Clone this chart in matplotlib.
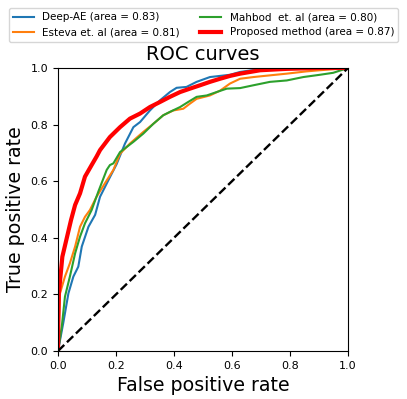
import matplotlib
matplotlib.use("Agg")
import matplotlib.pyplot as plt

# --- ROC points ---
deep_fpr = [0.0, 0.018, 0.036, 0.053, 0.07, 0.082, 0.105, 0.128, 0.145, 0.174, 0.202, 0.231,
            0.26, 0.283, 0.317, 0.352, 0.386, 0.409, 0.443, 0.478, 0.524, 0.593, 0.628, 0.708,
            0.8, 1.0]
deep_tpr = [0.0, 0.098, 0.204, 0.263, 0.298, 0.369, 0.439, 0.481, 0.545, 0.604, 0.66, 0.733,
            0.791, 0.809, 0.85, 0.886, 0.915, 0.93, 0.933, 0.951, 0.968, 0.976, 0.986, 0.998,
            1.0, 1.0]

esteva_fpr = [0.0, 0.004, 0.007, 0.024, 0.041, 0.059, 0.076, 0.093, 0.11, 0.133, 0.162, 0.191,
              0.214, 0.248, 0.294, 0.329, 0.363, 0.398, 0.432, 0.455, 0.478, 0.524, 0.559,
              0.593, 0.628, 0.674, 0.731, 0.789, 0.857, 0.903, 1.0]
esteva_tpr = [0.0, 0.12, 0.204, 0.263, 0.31, 0.369, 0.439, 0.474, 0.498, 0.545, 0.593, 0.64,
              0.697, 0.733, 0.774, 0.803, 0.833, 0.85, 0.856, 0.874, 0.891, 0.903, 0.92,
              0.945, 0.962, 0.968, 0.974, 0.98, 0.988, 0.992, 1.0]

mahbod_fpr = [0.0, 0.013, 0.024, 0.041, 0.059, 0.076, 0.093, 0.116, 0.139, 0.168, 0.179, 0.191,
              0.214, 0.26, 0.294, 0.329, 0.363, 0.386, 0.421, 0.449, 0.478, 0.513, 0.547,
              0.582, 0.628, 0.674, 0.731, 0.789, 0.846, 0.903, 0.949, 1.0]
mahbod_tpr = [0.0, 0.086, 0.192, 0.263, 0.345, 0.404, 0.451, 0.498, 0.563, 0.64, 0.657, 0.663,
              0.703, 0.739, 0.768, 0.803, 0.833, 0.845, 0.862, 0.88, 0.898, 0.903, 0.915,
              0.927, 0.929, 0.939, 0.951, 0.956, 0.968, 0.976, 0.983, 1.0]

prop_fpr = [0.0, 0.001, 0.003, 0.015, 0.03, 0.045, 0.059, 0.076, 0.093, 0.116, 0.133, 0.145,
            0.179, 0.214, 0.248, 0.283, 0.317, 0.352, 0.386, 0.421, 0.455, 0.49, 0.524, 0.559,
            0.593, 0.628, 0.697, 0.79, 0.9, 1.0]
prop_tpr = [0.0, 0.1, 0.204, 0.333, 0.398, 0.463, 0.516, 0.557, 0.616, 0.657, 0.687, 0.71,
            0.756, 0.791, 0.821, 0.839, 0.862, 0.88, 0.898, 0.915, 0.927, 0.939, 0.951, 0.962,
            0.972, 0.98, 0.992, 0.997, 1.0, 1.0]

labels = ["Deep-AE (area = 0.83)", "Esteva et. al (area = 0.81)",
          "Mahbod  et. al (area = 0.80)", "Proposed method (area = 0.87)"]

fig = plt.figure(figsize=(4.07, 3.99), dpi=100)
ax = fig.add_axes([0.1425, 0.1203, 0.7125, 0.7093])

ax.plot(deep_fpr, deep_tpr, color="#1f77b4", lw=1.5, label=labels[0])
ax.plot(esteva_fpr, esteva_tpr, color="#ff7f0e", lw=1.5, label=labels[1])
ax.plot(mahbod_fpr, mahbod_tpr, color="#2ca02c", lw=1.5, label=labels[2])
ax.plot(prop_fpr, prop_tpr, color="red", lw=3, label=labels[3])
ax.plot([0, 1], [0, 1], "k--", lw=1.7)

ax.set_xlim(0, 1)
ax.set_ylim(0, 1)
ax.set_title("ROC curves", fontsize=14)
ax.set_xlabel("False positive rate", fontsize=13.7)
ax.set_ylabel("True positive rate", fontsize=13.7)
ax.tick_params(labelsize=8)

# legend sits above the plot, two columns
fig.legend(ncol=2, fontsize=7.5, loc="upper center",
           bbox_to_anchor=(0.5, 0.985), borderaxespad=0.2, columnspacing=2.0)

fig.savefig("out.png", dpi=100)
